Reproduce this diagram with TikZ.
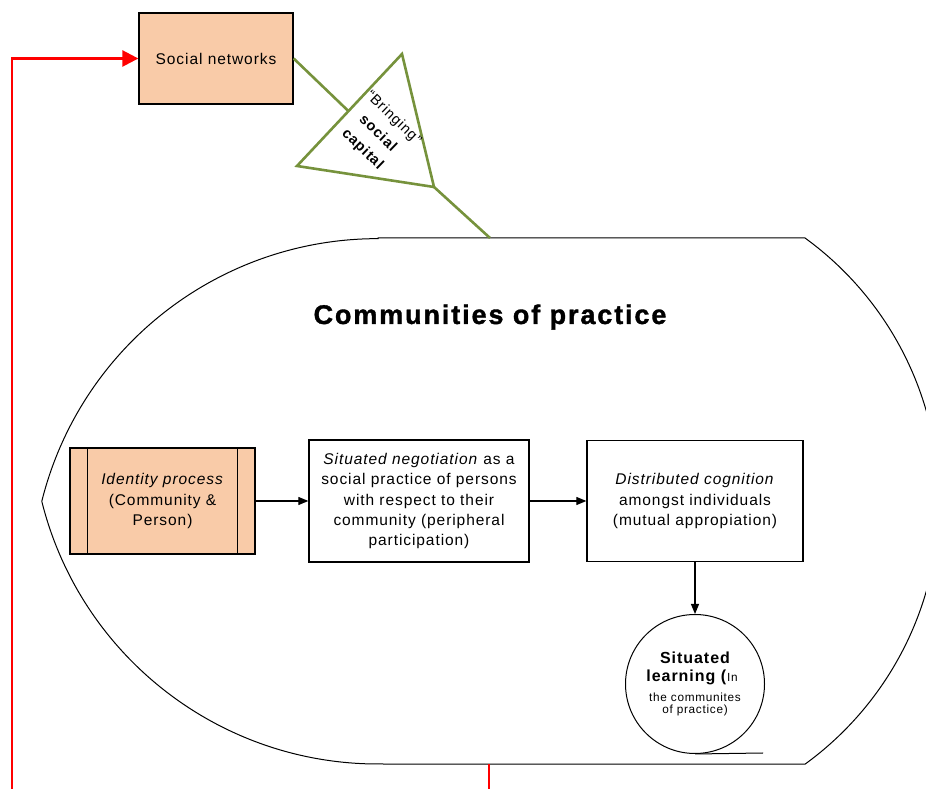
\documentclass[tikz,border=0pt]{standalone}
\usepackage{fontspec}
\setmainfont{Liberation Sans}[LetterSpace=6]
\newfontfamily\titlefont{Liberation Sans}[LetterSpace=7, BoldFeatures={FakeBold=1.3}]
\usetikzlibrary{arrows.meta,calc}

\definecolor{peach}{RGB}{249,203,168}
\definecolor{olive}{RGB}{118,146,60}
\definecolor{linkred}{RGB}{255,0,0}

\tikzset{
  box/.style={draw, line width=1.3pt, align=center, inner sep=0pt,
    font=\fontsize{15.5}{20.3}\selectfont},
  flow/.style={draw, line width=1.1pt, -{Triangle[length=10pt,width=8pt]}},
  feedback/.style={draw=linkred, line width=2.6pt},
  capital/.style={draw=olive, line width=2.6pt},
  outline/.style={draw, line width=1pt},
}

\begin{document}
\begin{tikzpicture}[x=1pt,y=1pt]
\useasboundingbox (0,0) rectangle (926,789);

% the community of practice (display shape)
\draw[outline] (378,551) -- (805,551)
  arc[start angle=54, end angle=-54, radius=325.2] -- (378,25)
  arc[start angle=270, end angle=194, radius=346.5]
  arc[start angle=166, end angle=90, radius=346.5] -- cycle;
\coordinate (cop-top) at (490,551);
\coordinate (cop-bottom) at (489,25);

\node[anchor=base, font=\titlefont\fontsize{27}{32}\selectfont\bfseries] (title)
  at (490,465) {Communities of practice};

% social networks and the red feedback link
\node[box, fill=peach, minimum width=154pt, minimum height=91pt] (sn)
  at (216,730.5) {Social networks};
\coordinate (fb-start) at (12,0);
\coordinate (fb-end) at (489,0);
\draw[feedback, -{Triangle[length=16pt,width=16pt]}] (fb-start) |- (sn.west);
\draw[feedback] (fb-end) -- (cop-bottom);

% bringing social capital
\coordinate (tri-top) at (402,735);
\coordinate (tri-left) at (297,623);
\coordinate (tri-right) at (434,602);
\draw[capital] (sn.east) -- ($(tri-left)!0.49!(tri-top)$);
\draw[capital, fill=white] (tri-top) -- (tri-left) -- (tri-right) -- cycle;
\draw[capital] (tri-right) -- (cop-top);
\node[rotate=-44, align=center, font=\fontsize{14.5}{22}\selectfont] (cap)
  at (378,655) {“Bringing”\\\textbf{social}\\\textbf{capital}};

% process chain
\node[box, fill=peach, minimum width=185pt, minimum height=106pt] (id)
  at (162.5,288) {\textit{Identity process}\\(Community \&\\Person)};
\draw[line width=1.3pt] ([xshift=18pt]id.north west) -- ([xshift=18pt]id.south west);
\draw[line width=1.3pt] ([xshift=-18pt]id.north east) -- ([xshift=-18pt]id.south east);

\node[box, minimum width=220pt, minimum height=122pt] (neg) at (419,288)
  {\textit{Situated negotiation} as a\\social practice of persons\\with respect to their\\community (peripheral\\participation)};

\node[box, minimum width=216pt, minimum height=121pt] (dist) at (695,288)
  {\textit{Distributed cognition}\\amongst individuals\\(mutual appropiation)};

\node[circle, outline, minimum size=139pt, inner sep=0pt] (learn) at (695,105) {};
\coordinate (tail-end) at (763,36);
\draw[outline] (learn.south) -- (tail-end);

\node[anchor=base, font=\fontsize{16}{19}\selectfont\bfseries] (l1)
  at ([yshift=20.7pt]learn.center) {Situated};
\node[anchor=base, font=\fontsize{16}{19}\selectfont] (l2)
  at ([yshift=2.5pt,xshift=-3pt]learn.center) {\textbf{learning (}{\fontsize{11.8}{13}\selectfont In}};
\node[anchor=base, font=\fontsize{11.8}{13}\selectfont] (l3)
  at ([yshift=-17.7pt]learn.center) {the communites};
\node[anchor=base, font=\fontsize{11.8}{13}\selectfont] (l4)
  at ([yshift=-30pt]learn.center) {of practice)};

\draw[flow] (id) -- (neg);
\draw[flow] (neg) -- (dist);
\draw[flow] (dist) -- (learn);
\end{tikzpicture}
\end{document}
